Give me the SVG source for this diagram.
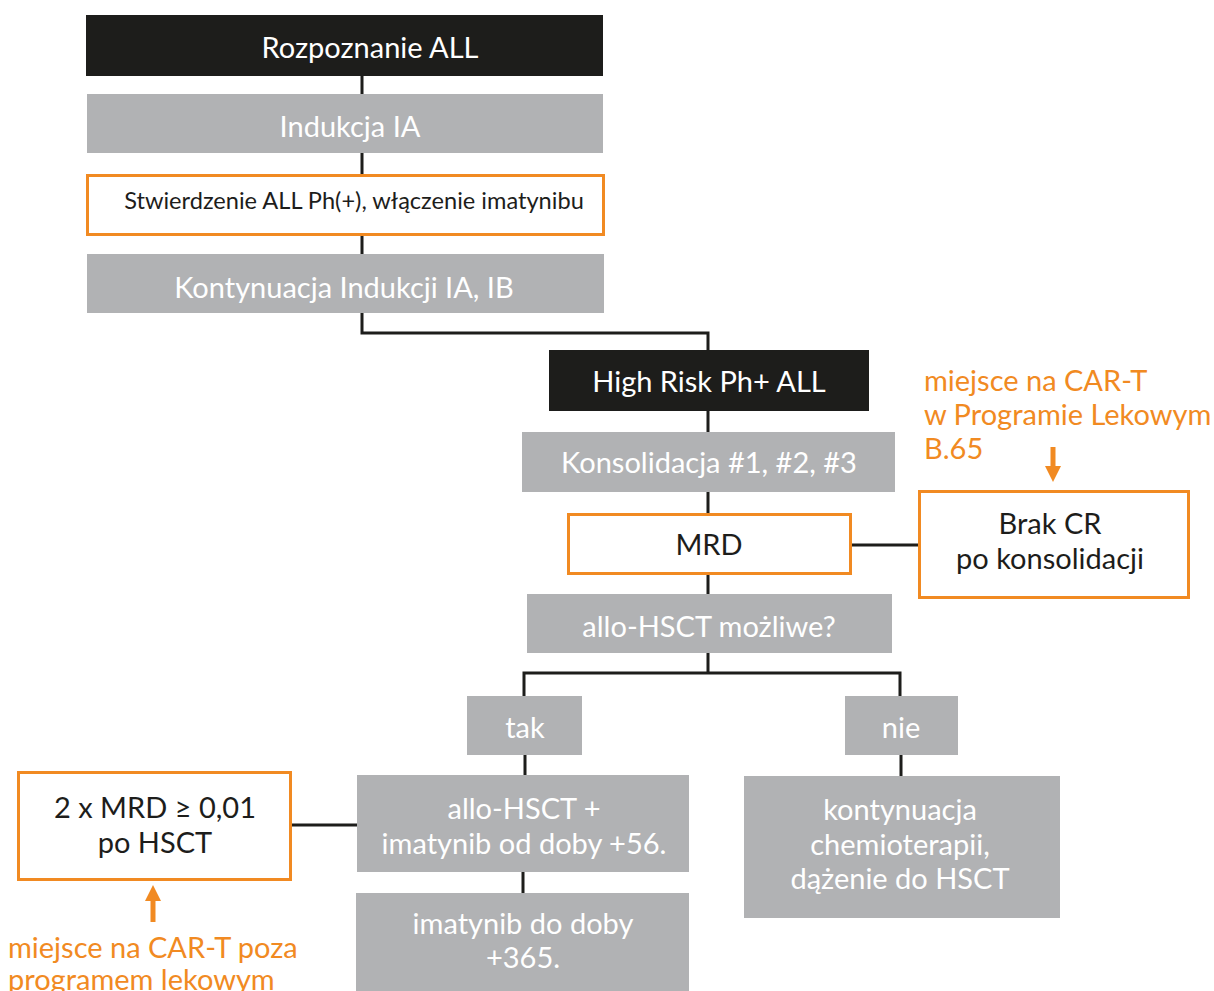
<svg xmlns="http://www.w3.org/2000/svg" width="1214" height="991" viewBox="0 0 1214 991">
<style>
.blk{fill:#1d1d1b}
.gry{fill:#b1b2b4}
.org{fill:#ffffff;stroke:#f18a22;stroke-width:3}
text{font-family:Lato,"Open Sans","Liberation Sans",sans-serif;font-size:29px;text-anchor:middle;dominant-baseline:central}
.w{fill:#ffffff}
.d{fill:#1d1d1b}
.o{fill:#f18a22;text-anchor:start}
.c{fill:none;stroke:#1d1d1b;stroke-width:3}
</style>
<defs>
<marker id="ah" viewBox="0 0 10 10" refX="5" refY="5" markerWidth="3.2" markerHeight="3.2" orient="auto" markerUnits="strokeWidth">
<path d="M0,0 L10,5 L0,10 z" fill="#f18a22"/>
</marker>
</defs>
<rect width="1214" height="991" fill="#ffffff"/>
<g id="connectors">
<path class="c" d="M362,76 V94 M362,153 V174 M362,235 V254 M362,313 V333 H708 V350"/>
<path class="c" d="M708,411 V432 M708,492 V514 M708,574 V594 M708,653 V673"/>
<path class="c" d="M851,545 H919"/>
<path class="c" d="M524,696 V673 H900 V696"/>
<path class="c" d="M525,755 V775 M901,755 V776 M523,872 V893"/>
<path class="c" d="M291,825 H357"/>
<path d="M1053,447 V474" stroke="#f18a22" stroke-width="5" fill="none" marker-end="url(#ah)"/>
<path d="M153,922 V893" stroke="#f18a22" stroke-width="5" fill="none" marker-end="url(#ah)"/>
</g>
<g id="n1"><rect class="blk" x="86" y="15" width="517" height="61"/><text class="w" x="370" y="46">Rozpoznanie ALL</text></g>
<g id="n2"><rect class="gry" x="87" y="94" width="516" height="59"/><text class="w" x="350" y="125">Indukcja IA</text></g>
<g id="n3"><rect class="org" x="87.5" y="175.5" width="516" height="59"/><text class="d" x="354" y="200" style="font-size:23.6px">Stwierdzenie ALL Ph(+), włączenie imatynibu</text></g>
<g id="n4"><rect class="gry" x="87" y="254" width="517" height="59"/><text class="w" x="344" y="286">Kontynuacja Indukcji IA, IB</text></g>
<g id="n5"><rect class="blk" x="549" y="350" width="320" height="61"/><text class="w" x="709" y="380">High Risk Ph+ ALL</text></g>
<g id="n6"><rect class="gry" x="522" y="432" width="373" height="60"/><text class="w" x="709" y="461">Konsolidacja #1, #2, #3</text></g>
<g id="n7"><rect class="org" x="568.5" y="514.5" width="282" height="59"/><text class="d" x="709" y="543">MRD</text></g>
<g id="n8"><rect class="org" x="919.5" y="491.5" width="269" height="106"/><text class="d" x="1050" y="522">Brak CR</text><text class="d" x="1050" y="557">po konsolidacji</text></g>
<g id="note1"><text class="o" x="924" y="379">miejsce na CAR-T</text><text class="o" x="924" y="413">w Programie Lekowym</text><text class="o" x="924" y="447">B.65</text></g>
<g id="n9"><rect class="gry" x="527" y="594" width="365" height="59"/><text class="w" x="709" y="625">allo-HSCT możliwe?</text></g>
<g id="n10"><rect class="gry" x="467" y="696" width="115" height="59"/><text class="w" x="525" y="726">tak</text></g>
<g id="n11"><rect class="gry" x="845" y="696" width="113" height="59"/><text class="w" x="901" y="726">nie</text></g>
<g id="n12"><rect class="gry" x="357" y="775" width="332" height="97"/><text class="w" x="524" y="807">allo-HSCT +</text><text class="w" x="524" y="842">imatynib od doby +56.</text></g>
<g id="n13"><rect class="gry" x="744" y="776" width="316" height="142"/><text class="w" x="900" y="808">kontynuacja</text><text class="w" x="900" y="843">chemioterapii,</text><text class="w" x="900" y="877">dążenie do HSCT</text></g>
<g id="n14"><rect class="gry" x="356" y="893" width="333" height="98"/><text class="w" x="523" y="922">imatynib do doby</text><text class="w" x="523" y="956">+365.</text></g>
<g id="n15"><rect class="org" x="18.5" y="772.5" width="272" height="107"/><text class="d" x="155" y="806">2 x MRD ≥ 0,01</text><text class="d" x="155" y="841">po HSCT</text></g>
<g id="note2"><text class="o" x="8" y="946">miejsce na CAR-T poza</text><text class="o" x="8" y="978">programem lekowym</text></g>
</svg>
